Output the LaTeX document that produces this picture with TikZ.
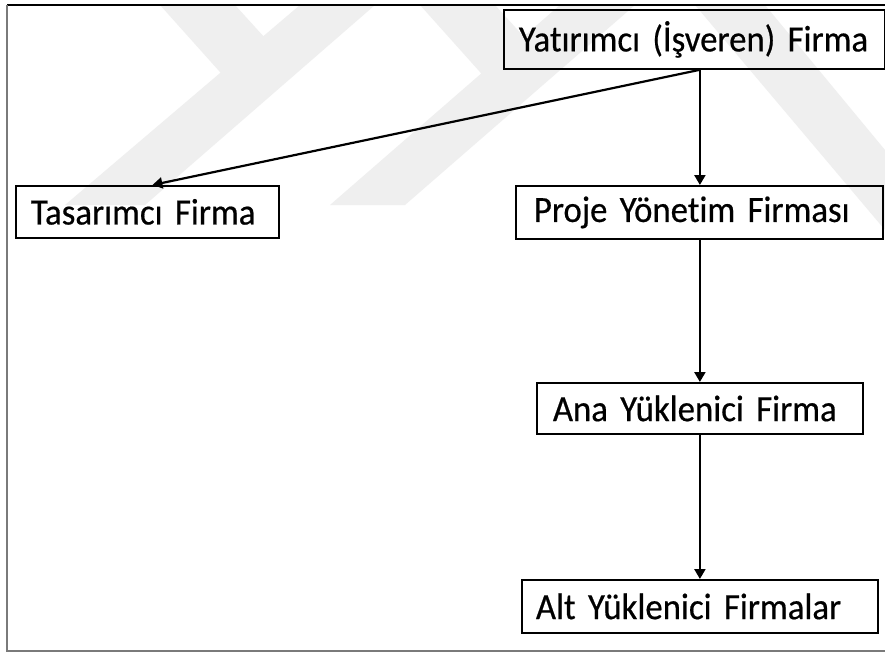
\documentclass[tikz,border=0pt]{standalone}
\usepackage{fontspec}
\setmainfont[Ligatures=NoCommon, FakeStretch=0.94, FakeBold=0.5]{Carlito}
\usetikzlibrary{arrows.meta}
\definecolor{wmark}{HTML}{EFEFEF}
\definecolor{framegray}{HTML}{7A7A7A}
\tikzset{
  box/.style={draw=black, line width=1.8pt, rectangle, anchor=north west,
    align=left, inner ysep=0pt, font=\fontsize{37}{44}\selectfont},
  link/.style={draw=black, line width=2.2pt, -{Triangle[length=10pt,width=11pt]}},
  band/.style={fill=wmark, draw=none}
}
\begin{document}
\begin{tikzpicture}[x=1pt, y=-1pt]
  \useasboundingbox (0,0) rectangle (885,653);
  \fill[white] (0,0) rectangle (885,653);

  % faint background emblem
  \fill[band] (300,5) -- (375,5) -- (145,205) -- (65,205) -- cycle;
  \fill[band] (160,5) -- (235,5) -- (285,60) -- (245,100) -- cycle;
  \fill[band] (560,5) -- (635,5) -- (405,205) -- (330,205) -- cycle;
  \fill[band] (420,5) -- (495,5) -- (545,60) -- (505,100) -- cycle;
  \fill[band] (695,5) -- (765,5) -- (885,150) -- (885,230) -- cycle;

  % page frame
  \draw[black, line width=1.4pt] (7,5) -- (885,5);
  \draw[framegray, line width=2pt] (7,5) -- (7,651) -- (885,651);

  % boxes
  \node[box, text width=351pt, inner xsep=15pt, minimum height=59pt] (top) at (503,9) {Yatırımcı (İşveren) Firma};
  \node[box, text width=233pt, inner xsep=15pt, minimum height=52pt] (tas) at (15,185) {Tasarımcı Firma};
  \node[box, text width=331pt, inner xsep=18pt, minimum height=53pt] (proje) at (515,185) {Proje Yönetim Firması};
  \node[box, text width=294pt, inner xsep=16pt, minimum height=51pt] (ana) at (536,382) {Ana Yüklenici Firma};
  \node[box, text width=328pt, inner xsep=14pt, minimum height=53pt] (alt) at (521,579) {Alt Yüklenici Firmalar};

  % connectors
  \coordinate (fork) at (top.south -| ana.north);
  \draw[link] (fork) -- ([xshift=5pt]tas.north);
  \draw[link] (fork) -- (proje.north -| ana.north);
  \draw[link] (proje.south -| ana.north) -- (ana.north);
  \draw[link] (ana.south) -- (alt.north -| ana.south);
\end{tikzpicture}
\end{document}
